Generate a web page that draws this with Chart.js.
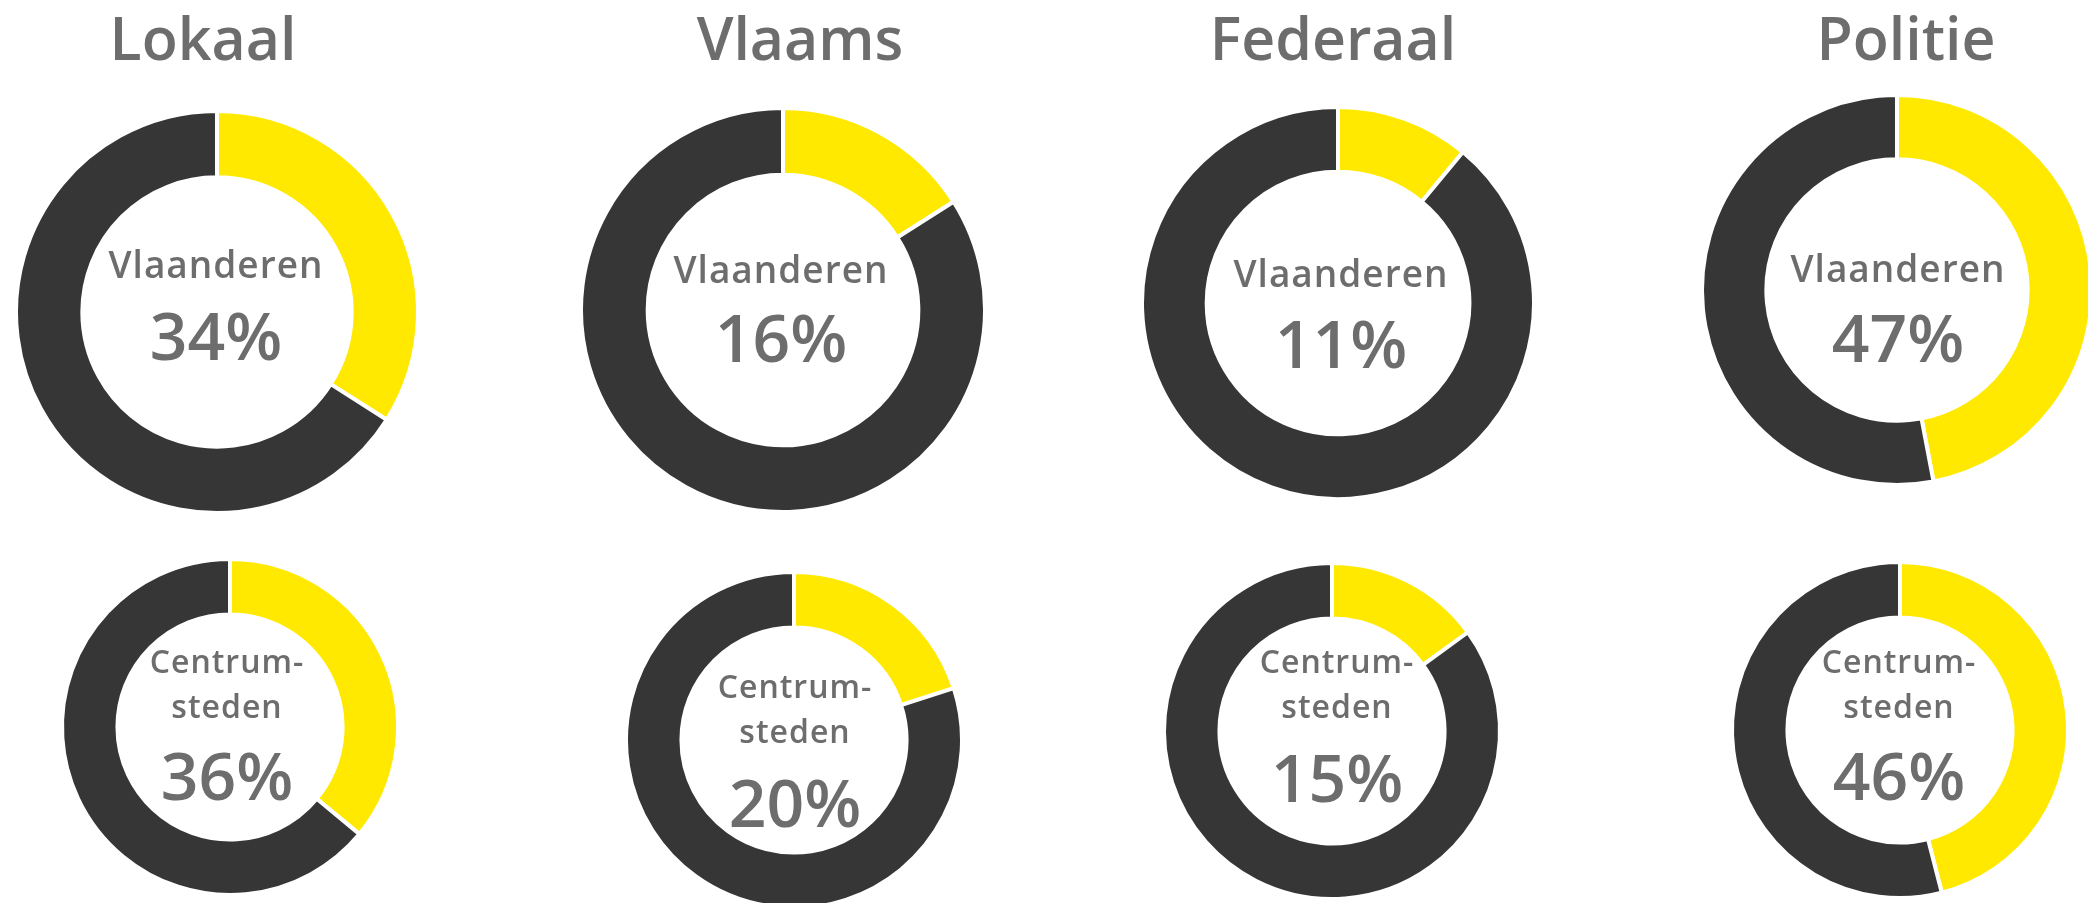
<!doctype html>
<html lang="nl">
<head>
<meta charset="UTF-8">
<title>Aandeel per bestuursniveau</title>
<script src="https://cdn.jsdelivr.net/npm/chart.js"></script>
<style>
    body {
        margin: 0;
        width: 2088px;
        height: 903px;
        background: #fff;
        position: relative;
        overflow: hidden;
        font-family: "Open Sans", sans-serif;
    }
    canvas {
        position: absolute;
    }
    .title {
        position: absolute;
        font-size: 59px;
        font-weight: 600;
        color: #6d6d6d;
        line-height: 59px;
        white-space: nowrap;
        transform: translateX(-50%);
    }
</style>
</head>
<body>
<script>
    // niveaus en percentages
    const groups = ['Lokaal', 'Vlaams', 'Federaal', 'Politie'];
    const vlaanderen = [34, 16, 11, 47];
    const centrumsteden = [36, 20, 15, 46];
    const rowLabels = [['Vlaanderen'], ['Centrum-', 'steden']];

    const YELLOW = '#ffe900';
    const DARK = '#363636';
    const GREY = '#6d6d6d';

    // where each ring sits on the page
    const titleX = [203, 800, 1333, 1906];
    const rings = [
        [ // bovenste rij
            {cx: 217, cy: 312, r: 199, tx: 216, base: [278], pct: 360},
            {cx: 783, cy: 310, r: 200, tx: 781, base: [283], pct: 362},
            {cx: 1338, cy: 303, r: 194, tx: 1341, base: [287], pct: 368},
            {cx: 1897, cy: 290, r: 193, tx: 1898, base: [282], pct: 362}
        ],
        [ // onderste rij
            {cx: 230, cy: 727, r: 166, tx: 227, base: [673, 718], pct: 800},
            {cx: 794, cy: 740, r: 166, tx: 795, base: [698, 743], pct: 827},
            {cx: 1332, cy: 731, r: 166, tx: 1337, base: [673, 718], pct: 802},
            {cx: 1900, cy: 730, r: 166, tx: 1899, base: [673, 718], pct: 800}
        ]
    ];

    const BORDER = 4;

    groups.forEach((name, i) => {
        const t = document.createElement('div');
        t.className = 'title';
        t.textContent = name;
        t.style.left = titleX[i] + 'px';
        t.style.top = (60 - 0.888 * 59) + 'px';
        document.body.appendChild(t);
    });

    // text in the hole of the ring
    const centerText = {
        id: 'centerText',
        afterDraw(chart, args, opts) {
            const ctx = chart.ctx;
            const ox = opts.ring.cx - opts.half;
            const oy = opts.ring.cy - opts.half;
            ctx.save();
            ctx.fillStyle = GREY;
            ctx.textAlign = 'center';
            ctx.textBaseline = 'alphabetic';
            ctx.letterSpacing = '1px';
            ctx.font = opts.small ? '600 32px "Open Sans"' : '600 37px "Open Sans"';
            opts.lines.forEach((line, k) => {
                ctx.fillText(line, opts.ring.tx - ox, opts.ring.base[k] - oy);
            });
            ctx.letterSpacing = '0px';
            ctx.font = '600 66px "Open Sans"';
            ctx.fillText(opts.value + '%', opts.ring.tx - ox, opts.ring.pct - oy);
            ctx.restore();
        }
    };

    function makeRing(ring, value, lines, small) {
        const half = ring.r + 8;
        const c = document.createElement('canvas');
        c.width = half * 2;
        c.height = half * 2;
        c.style.left = (ring.cx - half) + 'px';
        c.style.top = (ring.cy - half) + 'px';
        c.style.width = half * 2 + 'px';
        c.style.height = half * 2 + 'px';
        document.body.appendChild(c);

        new Chart(c, {
            type: 'doughnut',
            data: {
                labels: ['ja', 'nee'],
                datasets: [{
                    data: [value, 100 - value],
                    backgroundColor: [YELLOW, DARK],
                    borderColor: '#fff',
                    borderWidth: BORDER
                }]
            },
            options: {
                responsive: false,
                animation: false,
                radius: ring.r + BORDER / 2,
                cutout: '67%',
                layout: {padding: 0},
                plugins: {
                    legend: {display: false},
                    tooltip: {enabled: false},
                    centerText: {ring: ring, half: half, value: value, lines: lines, small: small}
                }
            },
            plugins: [centerText]
        });
    }

    groups.forEach((name, i) => {
        makeRing(rings[0][i], vlaanderen[i], rowLabels[0], false);
        makeRing(rings[1][i], centrumsteden[i], rowLabels[1], true);
    });
</script>
</body>
</html>
